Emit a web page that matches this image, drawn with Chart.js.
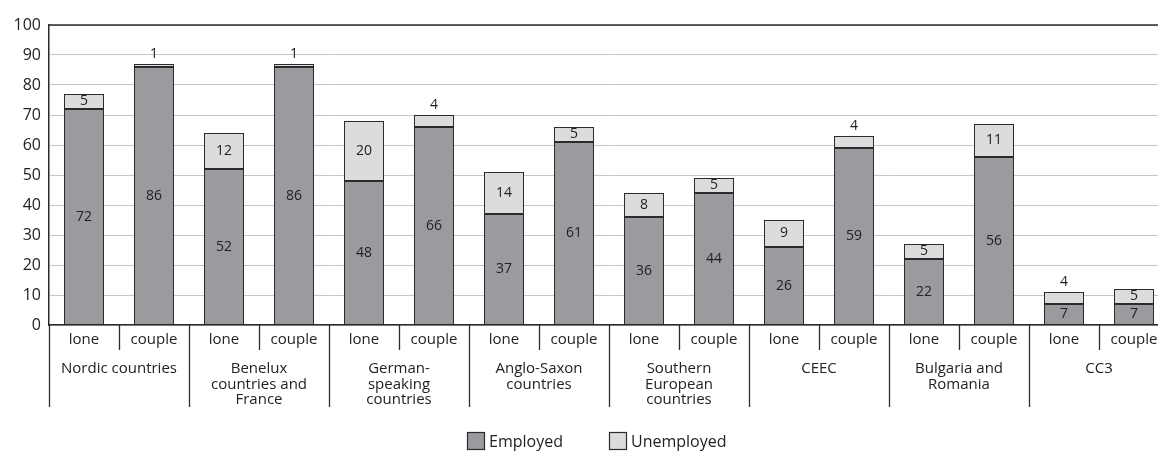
<!DOCTYPE html>
<html>
<head>
<meta charset="utf-8">
<script src="https://cdn.jsdelivr.net/npm/chart.js@4"></script>
<style>
  html, body { margin: 0; padding: 0; background: #fff; overflow: hidden; }
  #grafico { display: block; }
</style>
</head>
<body>
<canvas id="grafico" width="1175" height="452" style="width:1175px;height:452px"></canvas>
<script>
// household type under each bar, and the country groups (two bars each)
const households = ['lone', 'couple', 'lone', 'couple', 'lone', 'couple', 'lone', 'couple',
                    'lone', 'couple', 'lone', 'couple', 'lone', 'couple', 'lone', 'couple'];
const groups = [
    ['Nordic countries'],
    ['Benelux', 'countries and', 'France'],
    ['German-', 'speaking', 'countries'],
    ['Anglo-Saxon', 'countries'],
    ['Southern', 'European', 'countries'],
    ['CEEC'],
    ['Bulgaria and', 'Romania'],
    ['CC3']
];
const employed   = [72, 86, 52, 86, 48, 66, 37, 61, 36, 44, 26, 59, 22, 56, 7, 7];
const unemployed = [5, 1, 12, 1, 20, 4, 14, 5, 8, 5, 9, 4, 5, 11, 4, 5];
const yTicks = [0, 10, 20, 30, 40, 50, 60, 70, 80, 90, 100];

const FONT = '"Open Sans", "Noto Sans", sans-serif';
const cores = { employed: '#9b9b9f', unemployed: '#dcdcde', borda: '#2b2b2b', texto: '#222' };

// labels, separators, top frame line and legend drawn on top of the bars
const extras = {
    id: 'extras',
    afterDraw(chart) {
        const c = chart.ctx;
        const area = chart.chartArea;
        const x = chart.scales.x;
        const meio = (i) => x.getPixelForValue(i);
        const borda = (i) => i === 0 ? area.left
            : (i === households.length ? 2 * meio(i - 1) - meio(i - 2) : (meio(i - 1) + meio(i)) / 2);

        c.save();
        // top frame line
        c.strokeStyle = cores.borda;
        c.lineWidth = 1.5;
        c.beginPath();
        c.moveTo(area.left, area.top);
        c.lineTo(area.right, area.top);
        c.stroke();

        // separators below the axis
        c.lineWidth = 1.3;
        for (let i = 0; i <= households.length; i++) {
            const px = Math.round(borda(i)) + 0.5;
            c.beginPath();
            c.moveTo(px, area.bottom);
            c.lineTo(px, area.bottom + (i % 2 === 0 ? 82 : 25));
            c.stroke();
        }

        c.fillStyle = cores.texto;
        c.textAlign = 'center';
        c.textBaseline = 'middle';
        c.font = '15px ' + FONT;
        households.forEach((h, i) => c.fillText(h, meio(i), area.bottom + 15));

        c.font = '15px ' + FONT;
        groups.forEach((linhas, g) => {
            const cx = (meio(2 * g) + meio(2 * g + 1)) / 2;
            linhas.forEach((t, k) => c.fillText(t, cx, area.bottom + 44 + k * 15.5));
        });

        // value labels
        c.font = '14px ' + FONT;
        chart.data.datasets.forEach((ds, d) => {
            const meta = chart.getDatasetMeta(d);
            meta.data.forEach((bar, i) => {
                const v = ds.data[i];
                const alto = Math.abs(bar.base - bar.y);
                const y = alto >= 14 ? (bar.y + bar.base) / 2 : bar.y - 10;
                c.fillText(String(v), bar.x, y);
            });
        });

        // legend
        const itens = [['Employed', cores.employed, 467], ['Unemployed', cores.unemployed, 609]];
        c.font = '16px ' + FONT;
        c.textAlign = 'left';
        itens.forEach(([nome, cor, lx]) => {
            c.fillStyle = cor;
            c.fillRect(lx, 432, 17, 17);
            c.strokeStyle = cores.borda;
            c.lineWidth = 1.2;
            c.strokeRect(lx + 0.5, 432.5, 17, 17);
            c.fillStyle = cores.texto;
            c.fillText(nome, lx + 22, 442);
        });
        c.restore();
    }
};

new Chart(document.getElementById('grafico'), {
    type: 'bar',
    data: {
        labels: households,
        datasets: [
            {
                label: 'Employed',
                data: employed,
                backgroundColor: cores.employed,
                borderColor: cores.borda,
                borderWidth: 1,
                borderSkipped: false
            },
            {
                label: 'Unemployed',
                data: unemployed,
                backgroundColor: cores.unemployed,
                borderColor: cores.borda,
                borderWidth: 1,
                borderSkipped: false
            }
        ]
    },
    options: {
        responsive: false,
        animation: false,
        devicePixelRatio: 1,
        layout: { padding: { top: 25, right: 6, bottom: 127, left: 0 } },
        datasets: { bar: { categoryPercentage: 1, barPercentage: 40 / 70 } },
        plugins: {
            legend: { display: false },
            tooltip: { enabled: false }
        },
        scales: {
            x: {
                stacked: true,
                ticks: { display: false },
                grid: { display: false },
                border: { color: cores.borda, width: 1.5 },
                afterFit: (s) => { s.height = 0; }
            },
            y: {
                stacked: true,
                min: 0,
                max: 100,
                afterBuildTicks: (s) => { s.ticks = yTicks.map(v => ({ value: v })); },
                ticks: { color: cores.texto, font: { size: 16, family: FONT }, padding: 8 },
                grid: { color: '#c6c6c6', lineWidth: 1, drawTicks: false },
                border: { color: cores.borda, width: 1.5 },
                afterFit: (s) => { s.width = 49; }
            }
        }
    },
    plugins: [extras]
});
</script>
</body>
</html>
